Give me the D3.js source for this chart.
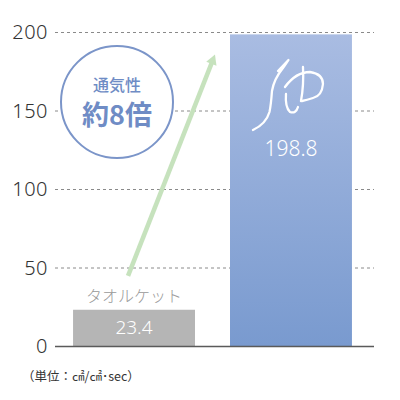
<!DOCTYPE html>
<html lang="ja">
<head>
<meta charset="UTF-8">
<title>通気性</title>
<style>
  body { margin: 0; background: #fff; }
  svg text { font-family: "Noto Sans CJK JP", "Noto Sans", sans-serif; }
</style>
</head>
<body>
<script src="https://cdn.jsdelivr.net/npm/d3@7"></script>
<script>
// data
var categories = ["タオルケット", "風"];
var values = [23.4, 198.8];
var tickValues = [0, 50, 100, 150, 200];
var unitLabel = "（単位：㎠/㎠･sec）";
var badgeTop = "通気性";
var badgeMain = "約8倍";

var width = 400, height = 400;

var svg = d3.select("body").append("svg")
    .attr("width", width)
    .attr("height", height);

var x = d3.scaleBand()
    .domain(categories)
    .range([55, 370])
    .paddingInner(0.223)
    .paddingOuter(0.115);

var y = d3.scaleLinear()
    .domain([0, 200])
    .range([346.5, 32.5]);

var defs = svg.append("defs");
var grad = defs.append("linearGradient")
    .attr("id", "blueGrad")
    .attr("x1", 0).attr("y1", 0).attr("x2", 0).attr("y2", 1);
grad.append("stop").attr("offset", "0%").attr("stop-color", "#a9bce2");
grad.append("stop").attr("offset", "100%").attr("stop-color", "#799acf");

// gridlines
svg.append("g")
    .selectAll("line")
    .data(tickValues.filter(function(d){ return d > 0; }))
    .enter().append("line")
    .attr("x1", 55).attr("x2", 374)
    .attr("y1", function(d){ return y(d); })
    .attr("y2", function(d){ return y(d); })
    .style("stroke", "#8a8a8a")
    .style("stroke-width", 1)
    .style("stroke-dasharray", "3,3");

// y axis labels
var yAxis = d3.axisLeft(y).tickValues(tickValues).tickSize(0).tickPadding(0);
var ga = svg.append("g").attr("transform", "translate(48,0)").call(yAxis);
ga.select(".domain").remove();
ga.selectAll("text")
    .style("font-family", "'Noto Sans', sans-serif")
    .style("font-weight", 300)
    .style("font-size", "20px")
    .style("letter-spacing", "0.5px")
    .style("fill", "#333");

// bars
svg.selectAll(".bar")
    .data(values)
    .enter().append("rect")
    .attr("class", "bar")
    .attr("x", function(d, i){ return x(categories[i]); })
    .attr("width", x.bandwidth())
    .attr("y", function(d){ return y(d); })
    .attr("height", function(d){ return y(0) - y(d); })
    .style("fill", function(d, i){ return i == 0 ? "#b5b5b5" : "url(#blueGrad)"; });

// baseline
svg.append("line")
    .attr("x1", 55).attr("x2", 374)
    .attr("y1", y(0)).attr("y2", y(0))
    .style("stroke", "#5a5a5a")
    .style("stroke-width", 1.5);

// value labels
var cx0 = x(categories[0]) + x.bandwidth() / 2;
var cx1 = x(categories[1]) + x.bandwidth() / 2;

svg.append("text")
    .attr("x", cx0).attr("y", y(values[0]) + 24)
    .attr("text-anchor", "middle")
    .style("font-family", "'Noto Sans', sans-serif")
    .style("font-weight", 300)
    .style("font-size", "19px")
    .style("fill", "#fff")
    .text(values[0]);

svg.append("text")
    .attr("x", cx0).attr("y", y(values[0]) - 8)
    .attr("text-anchor", "middle")
    .style("font-weight", 300)
    .style("font-size", "16px")
    .style("fill", "#999")
    .text(categories[0]);

svg.append("text")
    .attr("x", cx1).attr("y", 156)
    .attr("text-anchor", "middle")
    .style("font-family", "'Noto Sans', sans-serif")
    .style("font-weight", 300)
    .style("font-size", "21px")
    .style("fill", "#fff")
    .text(values[1]);

// brush-style 風
var kaze = svg.append("g")
    .attr("transform", "translate(" + cx1 + ",97)")
    .style("fill", "none")
    .style("stroke", "#fff")
    .style("stroke-width", 2.3)
    .style("stroke-linecap", "round")
    .style("stroke-linejoin", "round");
kaze.append("path")
    .attr("d", "M-13,-26 L-2.5,-37 Q-5,-33 -8,-29 Q-17,-18 -19,-6 Q-20,8 -21.5,15 Q-25,27 -38,33");
kaze.append("path")
    .attr("d", "M-6,-10 Q5,-25 19,-25 Q32,-23 32,-13 Q31,-1 22,1 Q16,3 11,4");
kaze.append("path")
    .attr("d", "M12,-30 Q13,-12 10,4");
kaze.append("path")
    .attr("d", "M-5,-3 Q-6,10 -1,15 Q5,17 7,10");

// arrow
var ax1 = cx0 - 6, ay1 = y(45), ax2 = x(categories[1]) - 15, ay2 = y(186);
var ang = Math.atan2(ay2 - ay1, ax2 - ax1);
svg.append("line")
    .attr("x1", ax1).attr("y1", ay1)
    .attr("x2", ax2 - 6 * Math.cos(ang)).attr("y2", ay2 - 6 * Math.sin(ang))
    .style("stroke", "#c6e2bd")
    .style("stroke-width", 4.5);
var hw = 5.5, hl = 10;
var bx = ax2 - hl * Math.cos(ang), by = ay2 - hl * Math.sin(ang);
svg.append("path")
    .attr("d", "M" + ax2 + "," + ay2 +
        "L" + (bx - hw * Math.sin(ang)) + "," + (by + hw * Math.cos(ang)) +
        "L" + (bx + hw * Math.sin(ang)) + "," + (by - hw * Math.cos(ang)) + "Z")
    .style("fill", "#c6e2bd");

// badge
svg.append("circle")
    .attr("cx", 117).attr("cy", 102).attr("r", 56)
    .style("fill", "#fff")
    .style("stroke", "#7b95c9")
    .style("stroke-width", 2);
svg.append("text")
    .attr("x", 117).attr("y", 91)
    .attr("text-anchor", "middle")
    .style("font-weight", 500)
    .style("font-size", "16px")
    .style("fill", "#6f8cc5")
    .text(badgeTop);
svg.append("text")
    .attr("x", 117).attr("y", 125)
    .attr("text-anchor", "middle")
    .style("font-weight", 700)
    .style("font-size", "27px")
    .style("fill", "#6f8cc5")
    .text(badgeMain);

// unit
svg.append("text")
    .attr("x", 22).attr("y", 381)
    .style("font-size", "12.5px")
    .style("fill", "#333")
    .text(unitLabel);
</script>
</body>
</html>
